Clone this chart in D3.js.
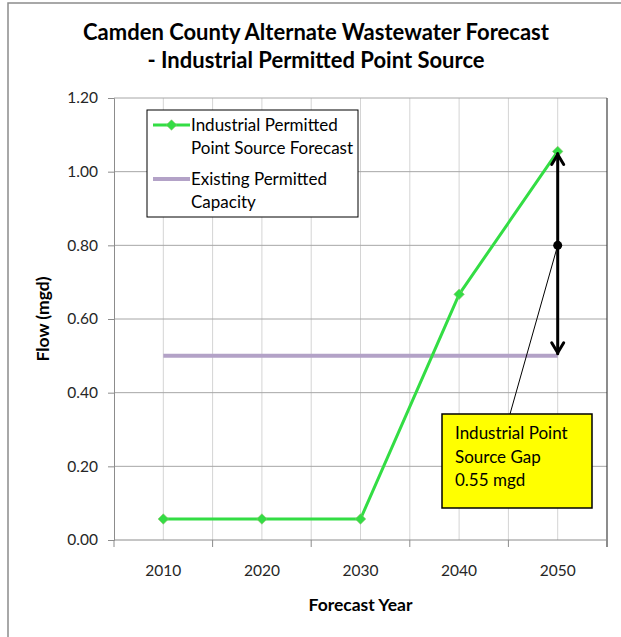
<!DOCTYPE html>
<html>
<head>
<meta charset="utf-8">
<script src="https://cdn.jsdelivr.net/npm/d3@7"></script>
<style>
  html, body { margin: 0; padding: 0; background: #fff; }
  svg { display: block; }
  text { font-family: Lato, "Open Sans", sans-serif; }
</style>
</head>
<body>
<svg id="chart" width="621" height="637"></svg>
<script>
// Forecast years on the horizontal axis
const years = ["2010", "2020", "2030", "2040", "2050"];
// Industrial permitted point source forecast (mgd)
const forecastFlow = [0.057, 0.057, 0.057, 0.667, 1.055];
// Existing permitted capacity (mgd), same for every year
const capacityFlow = [0.5, 0.5, 0.5, 0.5, 0.5];
// Value axis ticks
const yTicks = [0, 0.2, 0.4, 0.6, 0.8, 1.0, 1.2];
// Titles and callout text
const titleLines = ["Camden County Alternate Wastewater Forecast", "- Industrial Permitted Point Source"];
const gapLines = ["Industrial Point", "Source Gap", "0.55 mgd"];
const calloutAnchor = 0.8;

const svg = d3.select("#chart");
const plot = { left: 114, right: 607, top: 98, bottom: 540 };

const x = d3.scaleBand().domain(years).range([plot.left, plot.right]).padding(0);
const y = d3.scaleLinear().domain([0, 1.2]).range([plot.bottom, plot.top]);
const cx = d => x(d) + x.bandwidth() / 2;

// Outer chart frame
svg.append("rect")
  .attr("x", 8).attr("y", 3).attr("width", 640).attr("height", 660)
  .attr("fill", "none").attr("stroke", "#8c8c8c").attr("stroke-width", 1.5);

// Title
svg.append("g").selectAll("text").data(titleLines).join("text")
  .attr("x", 316).attr("y", (d, i) => 40 + i * 28)
  .attr("text-anchor", "middle")
  .attr("font-size", 22).attr("font-weight", "bold").attr("fill", "#000")
  .text(d => d);

// Vertical gridlines: at category centres and category boundaries
const vLines = [];
years.forEach((d, i) => {
  vLines.push(cx(d));
  if (i > 0) vLines.push(x(d));
});
svg.append("g").selectAll("line").data(vLines).join("line")
  .attr("x1", d => d).attr("x2", d => d)
  .attr("y1", plot.top).attr("y2", plot.bottom)
  .attr("stroke", "#d4d4d4").attr("stroke-width", 1);

// Horizontal gridlines
svg.append("g").selectAll("line").data(yTicks.filter(v => v > 0)).join("line")
  .attr("x1", plot.left).attr("x2", plot.right)
  .attr("y1", d => y(d)).attr("y2", d => y(d))
  .attr("stroke", "#a6a6a6").attr("stroke-width", 1);

// Right border of plot area
svg.append("line")
  .attr("x1", plot.right).attr("x2", plot.right)
  .attr("y1", plot.top).attr("y2", plot.bottom + 7)
  .attr("stroke", "#404040").attr("stroke-width", 1.2);

// Y axis
const yAxis = d3.axisLeft(y).tickValues(yTicks).tickFormat(d3.format(".2f")).tickSize(6).tickPadding(10);
const gy = svg.append("g").attr("transform", `translate(${plot.left},0)`).call(yAxis);
gy.select(".domain").attr("stroke", "#8c8c8c");
gy.selectAll(".tick line").attr("stroke", "#8c8c8c");
gy.selectAll(".tick text").attr("font-family", "Lato, sans-serif").attr("font-size", 15.5).attr("fill", "#262626");

// X axis: ticks at category boundaries, labels at centres
const xBounds = years.map(d => x(d)).concat([plot.right]);
svg.append("line")
  .attr("x1", plot.left).attr("x2", plot.right)
  .attr("y1", plot.bottom).attr("y2", plot.bottom)
  .attr("stroke", "#8c8c8c");
svg.append("g").selectAll("line").data(xBounds).join("line")
  .attr("x1", d => d).attr("x2", d => d)
  .attr("y1", plot.bottom).attr("y2", plot.bottom + 7)
  .attr("stroke", "#8c8c8c");
svg.append("g").selectAll("text").data(years).join("text")
  .attr("x", d => cx(d)).attr("y", 576)
  .attr("text-anchor", "middle").attr("font-size", 15.5).attr("fill", "#262626")
  .text(d => d);

// Axis titles
svg.append("text")
  .attr("x", (plot.left + plot.right) / 2).attr("y", 611)
  .attr("text-anchor", "middle").attr("font-size", 17.5).attr("font-weight", "bold")
  .text("Forecast Year");
svg.append("text")
  .attr("transform", `translate(49,${(plot.top + plot.bottom) / 2}) rotate(-90)`)
  .attr("text-anchor", "middle").attr("font-size", 17.5).attr("font-weight", "bold")
  .text("Flow (mgd)");

// Existing permitted capacity line
const capLine = d3.line().x((d, i) => cx(years[i])).y(d => y(d));
svg.append("path").datum(capacityFlow)
  .attr("d", capLine).attr("fill", "none")
  .attr("stroke", "#b3a2c7").attr("stroke-width", 4);

// Forecast line with diamond markers
const fLine = d3.line().x((d, i) => cx(years[i])).y(d => y(d));
svg.append("path").datum(forecastFlow)
  .attr("d", fLine).attr("fill", "none")
  .attr("stroke", "#33dd44").attr("stroke-width", 3).attr("stroke-linejoin", "round");
const diamond = d3.symbol().type(d3.symbolDiamond2).size(70);
svg.append("g").selectAll("path").data(forecastFlow).join("path")
  .attr("transform", (d, i) => `translate(${cx(years[i])},${y(d)})`)
  .attr("d", diamond)
  .attr("fill", "#33dd44").attr("stroke", "#8fbf6f").attr("stroke-width", 0.6);

// Gap arrow between forecast and capacity at the final year
const last = years[years.length - 1];
const ax = cx(last);
const yTop = y(forecastFlow[forecastFlow.length - 1]);
const yBot = y(capacityFlow[capacityFlow.length - 1]);
const arrowG = svg.append("g").attr("stroke", "#000").attr("fill", "none")
  .attr("stroke-width", 3).attr("stroke-linecap", "round").attr("stroke-linejoin", "round");
arrowG.append("line").attr("x1", ax).attr("x2", ax).attr("y1", yTop + 2).attr("y2", yBot - 2);
arrowG.append("path").attr("d", `M${ax - 6},${yTop + 13} L${ax},${yTop + 3} L${ax + 6},${yTop + 13}`);
arrowG.append("path").attr("d", `M${ax - 6},${yBot - 13} L${ax},${yBot - 3} L${ax + 6},${yBot - 13}`);

// Callout for the gap
const box = { x: 442, y: 414, w: 150, h: 94 };
svg.append("line")
  .attr("x1", ax).attr("y1", y(calloutAnchor))
  .attr("x2", 510).attr("y2", box.y)
  .attr("stroke", "#000").attr("stroke-width", 1);
svg.append("circle").attr("cx", ax).attr("cy", y(calloutAnchor)).attr("r", 4.5).attr("fill", "#000");
svg.append("rect")
  .attr("x", box.x).attr("y", box.y).attr("width", box.w).attr("height", box.h)
  .attr("fill", "#ffff00").attr("stroke", "#000").attr("stroke-width", 1.5);
svg.append("g").selectAll("text").data(gapLines).join("text")
  .attr("x", box.x + 13).attr("y", (d, i) => box.y + 25 + i * 23.5)
  .attr("font-size", 17).attr("fill", "#000")
  .text(d => d);

// Legend
const lg = svg.append("g");
lg.append("rect").attr("x", 147).attr("y", 110).attr("width", 211).attr("height", 107)
  .attr("fill", "#fff").attr("stroke", "#000").attr("stroke-width", 1);
const legendRows = [
  { lines: ["Industrial Permitted", "Point Source Forecast"], color: "#33dd44", width: 3, marker: true, y: 125 },
  { lines: ["Existing Permitted", "Capacity"], color: "#b3a2c7", width: 4, marker: false, y: 179 }
];
legendRows.forEach(r => {
  lg.append("line").attr("x1", 153).attr("x2", 190).attr("y1", r.y).attr("y2", r.y)
    .attr("stroke", r.color).attr("stroke-width", r.width);
  if (r.marker) {
    lg.append("path").attr("transform", `translate(171.5,${r.y})`).attr("d", diamond)
      .attr("fill", r.color).attr("stroke", "#8fbf6f").attr("stroke-width", 0.6);
  }
  lg.selectAll(null).data(r.lines).join("text")
    .attr("x", 191).attr("y", (d, i) => r.y + 6 + i * 22.5)
    .attr("font-size", 17).attr("fill", "#000")
    .text(d => d);
});
</script>
</body>
</html>
